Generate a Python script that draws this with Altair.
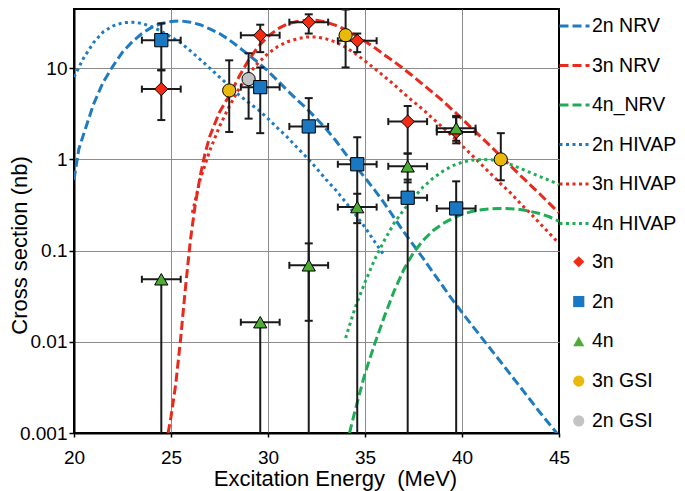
import altair as alt
import pandas as pd

FLOOR = 0.001

# ---------------- model curves ----------------
nrv2_E = [20.0, 20.25, 20.5, 21.0, 21.5, 22.0, 22.5, 23.0, 23.5, 24.0, 24.5, 25.0, 25.5, 26.0, 26.5,
          27.0, 27.5, 28.0, 28.5, 29.0, 29.5, 30.0, 30.5, 31.0, 31.5, 32.0, 32.5, 33.0, 33.5, 34.0,
          34.5, 35.0, 35.5, 36.0, 36.5, 37.0, 37.5, 38.0, 38.5, 39.0, 39.5, 40.0, 41.0, 42.0, 43.0,
          44.0, 45.0]
nrv2_s = [0.6, 1.3, 1.9, 4.0, 7.0, 10.5, 15, 19.5, 24, 28, 31, 32.5, 33, 32, 30,
          27, 24, 20.5, 17, 14, 11.5, 9.3, 7.3, 5.7, 4.5, 3.6, 2.8, 2.15, 1.6, 1.15,
          0.85, 0.63, 0.46, 0.33, 0.23, 0.16, 0.115, 0.082, 0.058, 0.041, 0.029, 0.021, 0.0112, 0.006, 0.0032,
          0.0017, 0.00093]

nrv3_E = [24.85, 25.0, 25.25, 25.5, 25.75, 26.0, 26.25, 26.5, 26.75, 27.0, 27.5, 28.0, 28.5, 29.0,
          29.5, 30.0, 30.5, 31.0, 31.5, 32.0, 32.5, 33.0, 33.5, 34.0, 34.5, 35.0, 35.5, 36.0, 36.5,
          37.0, 37.5, 38.0, 38.5, 39.0, 39.5, 40.0, 40.5, 41.0, 41.5, 42.0, 42.5, 43.0, 43.5, 44.0,
          44.5, 45.0]
nrv3_s = [0.001, 0.0015, 0.0035, 0.011, 0.04, 0.13, 0.32, 0.65, 1.15, 1.8, 3.3, 5.0, 8.0, 12.3,
          17.3, 22.3, 27, 30.5, 32.5, 33.5, 33.5, 32, 29.5, 26.5, 23, 19.8, 16.8, 14, 11.8,
          9.8, 8.1, 6.6, 5.4, 4.4, 3.5, 2.8, 2.2, 1.75, 1.38, 1.08, 0.85, 0.67, 0.53, 0.42,
          0.33, 0.26]

nrv4_E = [34.2, 34.5, 35.0, 35.5, 36.0, 36.5, 37.0, 37.5, 38.0, 38.5, 39.0, 39.5, 40.0, 40.5,
          41.0, 41.5, 42.0, 42.5, 43.0, 43.5, 44.0, 44.5, 45.0]
nrv4_s = [0.001, 0.0018, 0.0045, 0.0095, 0.019, 0.036, 0.062, 0.095, 0.13, 0.165, 0.197, 0.225,
          0.25, 0.268, 0.28, 0.288, 0.29, 0.288, 0.282, 0.27, 0.255, 0.235, 0.21]

hivap2_E = [20.0, 20.5, 21.0, 21.5, 22.0, 22.5, 23.0, 23.5, 24.0, 24.5, 25.0, 25.5, 26.0, 26.5,
            27.0, 27.5, 28.0, 28.5, 29.0, 29.5, 30.0, 30.5, 31.0, 31.5, 32.0, 32.5, 33.0, 33.5,
            34.0, 34.5, 35.0, 35.5, 36.0]
hivap2_s = [8.0, 13, 19, 25, 29, 31.5, 32, 31, 28.5, 25.5, 22, 19, 15.5, 12.5,
            10, 8.0, 6.4, 5.1, 4.2, 3.5, 2.8, 2.2, 1.75, 1.35, 1.05, 0.8, 0.6, 0.46,
            0.34, 0.25, 0.18, 0.125, 0.088]

hivap3_E = [26.1, 26.5, 27.0, 27.5, 28.0, 28.5, 29.0, 29.5, 30.0, 30.5, 31.0, 31.5, 32.0, 32.5,
            33.0, 33.5, 34.0, 34.5, 35.0, 35.5, 36.0, 36.5, 37.0, 37.5, 38.0, 38.5, 39.0, 39.5,
            40.0, 40.5, 41.0, 41.5, 42.0, 42.5, 43.0, 43.5, 44.0, 44.5, 45.0]
hivap3_s = [0.26, 0.6, 1.25, 2.3, 3.8, 5.9, 8.6, 11.5, 14.5, 17.3, 19.5, 21, 22, 22,
            21, 19.3, 17.0, 14.5, 12.0, 9.9, 8.1, 6.6, 5.3, 4.3, 3.5, 2.8, 2.25, 1.8,
            1.42, 1.12, 0.88, 0.69, 0.54, 0.43, 0.33, 0.26, 0.2, 0.155, 0.12]

hivap4_E = [34.0, 34.5, 35.0, 35.5, 36.0, 36.5, 37.0, 37.5, 38.0, 38.5, 39.0, 39.5, 40.0, 40.5,
            41.0, 41.5, 42.0, 42.5, 43.0, 43.5, 44.0, 44.5, 45.0]
hivap4_s = [0.011, 0.024, 0.045, 0.08, 0.13, 0.2, 0.28, 0.38, 0.5, 0.62, 0.74, 0.85, 0.93, 0.98,
            1.0, 0.99, 0.95, 0.88, 0.8, 0.72, 0.65, 0.59, 0.53]

curve_names = ["2n NRV", "3n NRV", "4n_NRV", "2n HIVAP", "3n HIVAP", "4n HIVAP"]
curve_colors = ["#1f7bc0", "#e8291c", "#1fac56", "#1f7bc0", "#e8291c", "#1fac56"]
curve_dashes = [[9, 4], [9, 4], [9, 4], [3, 3.5], [3, 3.5], [3, 3.5]]

d3n_E = [24.5, 29.6, 32.1, 34.6, 37.2, 39.7]
d3n_s = [5.9, 23, 32, 20, 2.6, 2.0]
d3n_hi = [9.5, 30, 39, 24, 3.85, 3.0]
d3n_lo = [2.7, 15, 24, 15, 1.16, 1.5]
d3n_dx = [1.0, 1.0, 1.0, 1.0, 1.0, 1.0]

d2n_E = [24.5, 29.6, 32.1, 34.6, 37.2, 39.7]
d2n_s = [20.3, 6.2, 2.3, 0.885, 0.38, 0.29]
d2n_hi = [31, 10.2, 4.7, 1.75, 0.6, 0.575]
d2n_lo = [9.5, 1.94, FLOOR, FLOOR, FLOOR, FLOOR]
d2n_dx = [1.0, 1.0, 1.0, 1.0, 1.0, 1.0]

d4n_E = [24.5, 29.6, 32.1, 34.6, 37.2, 39.7]
d4n_s = [0.0485, 0.0164, 0.069, 0.30, 0.84, 2.2]
d4n_hi = [0.0485, 0.0164, 0.12, 0.42, 1.16, 2.9]
d4n_lo = [FLOOR, FLOOR, 0.017, 0.2, 0.56, 1.6]
d4n_dx = [1.0, 1.0, 1.0, 1.0, 1.0, 1.0]

g3n_E = [28.0, 34.0, 42.0]
g3n_s = [5.7, 23, 1.0]
g3n_hi = [12.2, 44, 1.94]
g3n_lo = [2.0, 10.2, 0.59]
g3n_dx = [0, 0, 0]

g2n_E = [29.0]
g2n_s = [7.6]
g2n_hi = [14.6]
g2n_lo = [2.8]
g2n_dx = [0]

series_names = ["3n", "2n", "4n", "3n GSI", "2n GSI"]
series_shapes = ["diamond", "square", "triangle-up", "circle", "circle"]
series_fills = ["#f42a12", "#1a78c2", "#4dac33", "#e9b90c", "#c3c3c3"]

# ---------------- tables ----------------
curve_rows = []
for name, es, ss in zip(curve_names,
                        [nrv2_E, nrv3_E, nrv4_E, hivap2_E, hivap3_E, hivap4_E],
                        [nrv2_s, nrv3_s, nrv4_s, hivap2_s, hivap3_s, hivap4_s]):
    for e, s in zip(es, ss):
        curve_rows.append({"E": e, "sigma": s, "curve": name})
curve_df = pd.DataFrame(curve_rows)

exp_sets = {
    "3n GSI": (g3n_E, g3n_s, g3n_hi, g3n_lo, g3n_dx),
    "2n GSI": (g2n_E, g2n_s, g2n_hi, g2n_lo, g2n_dx),
    "3n": (d3n_E, d3n_s, d3n_hi, d3n_lo, d3n_dx),
    "2n": (d2n_E, d2n_s, d2n_hi, d2n_lo, d2n_dx),
    "4n": (d4n_E, d4n_s, d4n_hi, d4n_lo, d4n_dx),
}
pt_rows, cap_h, cap_v = [], [], []
for name, (es, ss, his, los, dxs) in exp_sets.items():
    for e, s, hi, lo, dx in zip(es, ss, his, los, dxs):
        pt_rows.append({"E": e, "sigma": s, "hi": hi, "lo": lo, "xlo": e - dx, "xhi": e + dx,
                        "dx": dx, "series": name})
        if hi > s:
            cap_h.append({"cx": e, "cy": hi})
        if lo > FLOOR:
            cap_h.append({"cx": e, "cy": lo})
        if dx > 0:
            cap_v.append({"cx": e - dx, "cy": s})
            cap_v.append({"cx": e + dx, "cy": s})
pt_df = pd.DataFrame(pt_rows)
hbar_df = pt_df[pt_df["dx"] > 0]
caph_df = pd.DataFrame(cap_h)
capv_df = pd.DataFrame(cap_v)

# ---------------- scales / axes ----------------
xs = alt.Scale(domain=[20, 45], nice=False, zero=False)
ys = alt.Scale(type="log", domain=[0.001, 44.6], nice=False)

xax = alt.Axis(values=[20, 25, 30, 35, 40, 45], title="Excitation Energy\u00a0 (MeV)",
               grid=True, gridColor="#8c8c8c", gridWidth=1, labelFlush=False,
               gridOpacity={"condition": {"test": "datum.value <= 20 || datum.value >= 45", "value": 0},
                            "value": 1},
               tickSize=4, tickWidth=1.5, labelPadding=11, domainWidth=2,
               titleX=261, titleY=52, titleAlign="center", titleBaseline="alphabetic")
yax = alt.Axis(values=[0.001, 0.01, 0.1, 1, 10], format="~g", title="Cross section (nb)",
               grid=True, gridColor="#8c8c8c", gridWidth=1,
               gridOpacity={"condition": {"test": "datum.value <= 0.0011", "value": 0}, "value": 1},
               tickSize=5, tickWidth=1.5, labelPadding=2, domainWidth=2,
               titleX=-55, titleY=236, titleAlign="center", titleBaseline="middle", titleAngle=270)


def X(f):
    return alt.X(f"{f}:Q", scale=xs, axis=xax)


def Y(f):
    return alt.Y(f"{f}:Q", scale=ys, axis=yax)


line_legend = alt.Legend(title=None, orient="none", legendX=484, legendY=0.5, symbolType="stroke",
                         symbolSize=900, symbolStrokeWidth=3, labelOffset=1, rowPadding=13.5,
                         labelFontSize=19.5, padding=0)
pt_legend = alt.Legend(title=None, orient="none", legendX=495, legendY=243, symbolSize=125,
                       symbolStrokeColor="black", symbolStrokeWidth=1, labelOffset=3.5,
                       rowPadding=18.8, labelFontSize=19.5, padding=0)

lines = alt.Chart(curve_df).mark_line(strokeWidth=3, clip=True).encode(
    x=X("E"), y=Y("sigma"),
    stroke=alt.Stroke("curve:N", scale=alt.Scale(domain=curve_names, range=curve_colors),
                      legend=line_legend),
    strokeDash=alt.StrokeDash("curve:N", scale=alt.Scale(domain=curve_names, range=curve_dashes),
                              legend=line_legend),
)

vbars = alt.Chart(pt_df).mark_rule(color="#1a1a1a", strokeWidth=2, clip=True).encode(
    x=X("E"), y=Y("lo"), y2=alt.Y2("hi"))
hbars = alt.Chart(hbar_df).mark_rule(color="#1a1a1a", strokeWidth=2, clip=True).encode(
    x=X("xlo"), x2=alt.X2("xhi"), y=Y("sigma"))
caps_h = alt.Chart(caph_df).mark_tick(orient="horizontal", size=8, thickness=2,
                                       color="#1a1a1a", opacity=1).encode(x=X("cx"), y=Y("cy"))
caps_v = alt.Chart(capv_df).mark_tick(orient="vertical", size=7, thickness=2,
                                       color="#1a1a1a", opacity=1).encode(x=X("cx"), y=Y("cy"))

points = alt.Chart(pt_df).mark_point(filled=True, stroke="black", strokeWidth=1, opacity=1,
                                     size=175).encode(
    x=X("E"), y=Y("sigma"),
    fill=alt.Fill("series:N", scale=alt.Scale(domain=series_names, range=series_fills),
                  legend=pt_legend),
    shape=alt.Shape("series:N", scale=alt.Scale(domain=series_names, range=series_shapes),
                    legend=pt_legend),
)

chart = alt.layer(lines, vbars, hbars, caps_h, caps_v, points).properties(
    width=485, height=424,
    autosize=alt.AutoSizeParams(type="none"),
    padding={"left": 66, "top": 1, "right": 118, "bottom": 58},
).configure(font="Liberation Sans").configure_view(
    stroke="black", strokeWidth=2
).configure_axis(
    labelColor="black", titleColor="black", domainColor="black", tickColor="black",
    labelFontSize=19, titleFontSize=22, titleFontWeight="normal", labelFont="Liberation Sans",
    titleFont="Liberation Sans"
).configure_legend(
    labelColor="black", labelFont="Liberation Sans"
)

chart.save("out.html", embed_options={"renderer": "svg", "actions": False})
